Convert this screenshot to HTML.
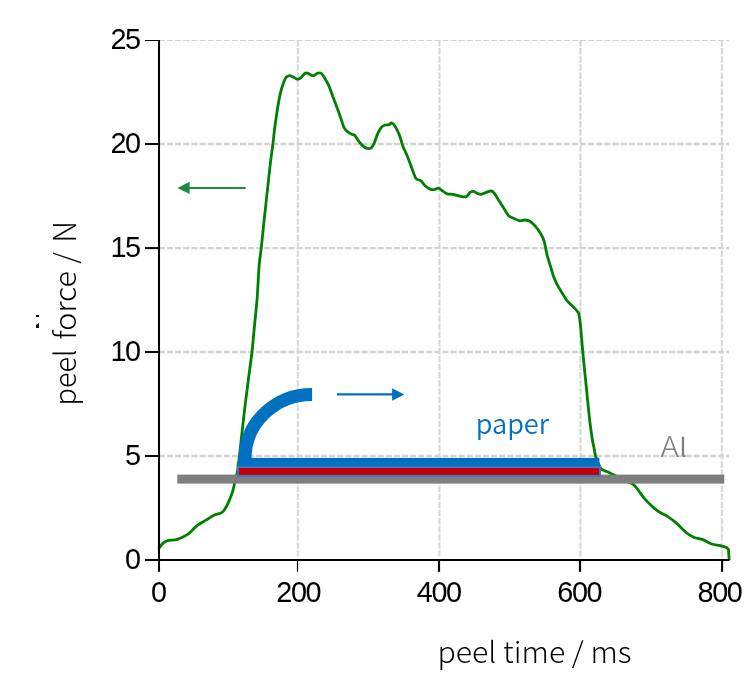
<!DOCTYPE html>
<html><head><meta charset="utf-8"><title>peel force vs peel time</title>
<style>
html,body{margin:0;padding:0;background:#fff;}
body{width:753px;height:691px;overflow:hidden;}
svg{display:block;}
.tick text{font-family:"Liberation Sans",Arial,sans-serif;font-size:28px;fill:#000;letter-spacing:-1.4px;}
.lbl{font-family:"Noto Sans CJK SC","Liberation Sans",sans-serif;font-weight:300;}
</style></head><body>
<svg width="753" height="691" viewBox="0 0 753 691">
<rect width="753" height="691" fill="#fff"/>
<g stroke="#d3d3d3" stroke-width="2.3" stroke-dasharray="6 2.1" fill="none"><line x1="297.9" y1="40" x2="297.9" y2="560" stroke="#dbdbdb" stroke-dasharray="6.5 1.6"/><line x1="439.4" y1="40" x2="439.4" y2="560" stroke="#dbdbdb" stroke-dasharray="6.5 1.6"/><line x1="580.4" y1="40" x2="580.4" y2="560" stroke="#dbdbdb" stroke-dasharray="6.5 1.6"/><line x1="721.9" y1="40" x2="721.9" y2="560" stroke="#dbdbdb" stroke-dasharray="6.5 1.6"/><line x1="159" y1="456" x2="729" y2="456"/><line x1="159" y1="352" x2="729" y2="352"/><line x1="159" y1="248.1" x2="729" y2="248.1"/><line x1="159" y1="144" x2="729" y2="144"/></g>
<line x1="159" y1="40.5" x2="729" y2="40.5" stroke="#d3d3d3" stroke-width="1" stroke-dasharray="6 2.1"/>
<path fill="none" stroke="#008000" stroke-width="2.8" stroke-linejoin="round" d="M158.5 548.7C158.5 548.7 161.9 544.2 163.2 543.1C164.5 542.0 166.0 541.1 167.9 540.6C169.8 540.1 174.7 540.1 177.3 539.3C179.9 538.5 185.0 536.2 187.6 534.4C190.2 532.6 194.5 527.5 197.0 525.6C199.5 523.7 204.1 521.3 206.4 519.9C208.7 518.5 212.0 516.1 213.9 515.2C215.8 514.3 219.1 514.0 220.5 513.3C221.9 512.6 223.2 511.6 224.3 510.0C225.4 508.4 227.9 503.7 229.0 501.1C230.1 498.5 232.1 493.2 232.8 490.8C233.5 488.4 234.0 485.9 234.6 483.3C235.2 480.7 237.0 473.7 237.5 471.0C238.0 468.3 238.3 463.0 238.3 463.0C238.3 463.0 238.6 463.7 239.3 457.4C240.0 451.1 242.7 426.2 243.9 415.7C245.1 405.2 247.4 387.2 248.5 378.7C249.6 370.2 251.2 358.8 252.0 352.0C252.8 345.2 253.6 334.7 254.3 327.8C255.0 320.9 256.3 308.4 257.0 300.0C257.7 291.6 258.6 272.0 259.2 265.0C259.8 258.0 260.6 253.8 261.3 247.6C262.0 241.4 263.5 226.0 264.3 218.7C265.1 211.4 266.3 200.3 267.1 193.2C267.9 186.1 269.3 172.3 270.1 165.5C270.9 158.7 272.5 147.4 273.1 142.3C273.7 137.2 274.2 131.7 274.8 127.4C275.4 123.1 276.6 114.4 277.3 110.0C278.0 105.6 279.4 97.6 280.2 94.1C281.0 90.6 282.3 86.1 283.1 83.9C283.9 81.7 285.1 78.5 286.0 77.4C286.9 76.3 288.6 75.8 289.6 75.7C290.6 75.6 292.1 76.5 293.2 77.0C294.3 77.5 296.5 79.2 297.6 79.3C298.7 79.4 300.2 78.2 301.2 77.4C302.2 76.6 303.9 74.1 304.8 73.5C305.7 72.9 306.8 72.9 307.7 73.1C308.6 73.3 310.4 75.0 311.3 75.3C312.2 75.6 313.3 75.6 314.2 75.3C315.1 75.0 316.8 73.4 317.8 73.1C318.8 72.8 320.5 72.8 321.4 73.4C322.3 74.0 323.3 75.8 324.3 77.4C325.3 79.0 327.5 82.8 328.7 85.4C329.9 88.0 331.8 93.9 333.0 97.0C334.2 100.1 336.3 105.6 337.4 108.5C338.5 111.4 340.1 116.2 341.0 118.7C341.9 121.2 343.0 125.7 343.9 127.4C344.8 129.1 346.4 130.8 347.5 131.7C348.6 132.6 350.8 133.8 351.8 134.3C352.8 134.8 353.7 134.3 354.7 135.3C355.7 136.3 357.9 140.2 359.2 141.8C360.5 143.4 363.1 146.3 364.6 147.2C366.1 148.1 369.3 148.8 370.6 148.3C371.9 147.8 373.2 145.3 374.1 143.4C375.0 141.5 376.7 136.0 377.6 133.9C378.5 131.8 380.1 129.0 381.0 127.8C381.9 126.6 383.4 125.6 384.5 125.2C385.6 124.8 388.0 125.1 388.9 124.8C389.8 124.5 390.7 122.7 391.5 122.9C392.3 123.1 393.9 124.4 394.9 126.0C395.9 127.6 398.2 132.0 399.3 134.7C400.4 137.4 401.8 143.2 402.8 146.0C403.8 148.8 406.0 152.8 407.1 155.6C408.2 158.4 410.2 163.9 411.4 166.9C412.6 169.9 414.5 176.3 415.8 178.2C417.1 180.1 419.7 179.8 421.0 180.8C422.3 181.8 424.0 184.9 425.3 186.0C426.6 187.1 429.2 188.9 430.5 189.4C431.8 189.9 433.8 189.6 434.9 189.4C436.0 189.2 437.5 188.0 438.4 188.1C439.3 188.2 440.7 189.5 441.8 190.3C442.9 191.1 445.5 193.3 447.0 193.8C448.5 194.3 451.5 194.0 453.1 194.3C454.7 194.6 457.5 195.7 459.2 196.0C460.9 196.3 464.6 197.3 466.1 196.8C467.6 196.3 469.1 193.1 470.1 192.4C471.1 191.7 472.9 191.3 473.8 191.4C474.7 191.5 476.2 193.0 477.2 193.4C478.2 193.8 480.1 194.5 481.3 194.4C482.5 194.3 485.0 192.9 486.3 192.4C487.6 191.9 490.3 190.9 491.4 191.0C492.5 191.1 493.3 192.0 494.4 193.4C495.5 194.8 498.1 199.3 499.5 201.5C500.9 203.7 503.4 207.7 504.6 209.6C505.8 211.5 507.4 214.5 508.6 215.7C509.8 216.9 512.2 217.6 513.7 218.3C515.2 219.0 518.3 220.6 519.8 220.8C521.3 221.0 523.5 219.9 524.8 220.0C526.1 220.1 528.5 220.4 529.9 221.2C531.3 222.0 533.7 224.3 535.0 225.8C536.3 227.3 538.8 230.5 540.0 232.5C541.2 234.5 543.2 238.0 544.1 241.0C545.0 244.0 546.3 252.0 547.1 255.2C547.9 258.4 549.4 262.6 550.2 265.3C551.0 268.0 552.3 272.9 553.2 275.5C554.1 278.1 556.1 282.4 557.2 284.6C558.3 286.8 560.1 289.7 561.3 291.7C562.5 293.7 564.6 297.5 566.4 299.8C568.2 302.1 573.3 306.8 575.0 308.6C576.7 310.4 578.8 313.4 578.8 313.4C578.8 313.4 580.2 322.4 580.7 327.7C581.2 333.0 582.2 345.6 582.9 353.2C583.6 360.8 585.2 376.5 586.1 385.0C587.0 393.5 588.5 409.5 589.3 416.8C590.1 424.1 591.8 435.9 592.4 440.0C593.0 444.1 593.5 445.3 593.9 447.4C594.3 449.5 595.5 456.0 595.5 456.0C595.5 456.0 599.3 466.4 600.9 468.5C602.5 470.6 605.8 470.9 607.4 471.7C609.0 472.5 609.5 472.9 612.8 474.5C616.1 476.1 629.0 481.8 632.3 483.8C635.6 485.8 636.2 487.8 637.8 489.7C639.4 491.6 642.3 496.1 644.3 498.4C646.3 500.7 651.0 505.3 653.0 507.1C655.0 508.9 657.5 510.8 659.5 512.1C661.5 513.4 665.9 515.3 668.2 516.8C670.5 518.3 674.5 521.4 676.8 523.4C679.1 525.4 683.2 530.1 685.5 532.0C687.8 533.9 691.9 536.5 694.2 537.5C696.5 538.5 700.6 538.7 702.9 539.6C705.2 540.5 709.3 543.2 711.6 544.0C713.9 544.8 718.3 545.2 720.3 545.7C722.3 546.2 726.8 547.7 726.8 547.7C726.8 547.7 728.5 549.4 728.5 549.4C728.5 549.4 729.2 560.3 729.2 560.3"/>
<g stroke="#000" stroke-width="2" fill="none">
<line x1="159" y1="40" x2="159" y2="571.8" stroke-width="2.1"/>
<line x1="145" y1="559.95" x2="729.3" y2="559.95" stroke-width="1.9"/>
<line x1="297.5" y1="560" x2="297.5" y2="571.8" stroke-width="1.2"/><line x1="439.0" y1="560" x2="439.0" y2="571.8" stroke-width="2.2"/><line x1="580.0" y1="560" x2="580.0" y2="571.8" stroke-width="2.2"/><line x1="722.1" y1="560" x2="722.1" y2="571.8" stroke-width="2.1"/><line x1="145" y1="560" x2="159" y2="560"/><line x1="145" y1="456" x2="159" y2="456"/><line x1="145" y1="352" x2="159" y2="352"/><line x1="145" y1="248.1" x2="159" y2="248.1"/><line x1="145" y1="144" x2="159" y2="144"/>
</g>
<line x1="145" y1="40.5" x2="159.6" y2="40.5" stroke="#000" stroke-width="1"/>
<g class="tick"><text transform="translate(139.7 569.0) scale(1.03 1.078)" text-anchor="end">0</text><text transform="translate(139.7 465.0) scale(1.03 1.078)" text-anchor="end">5</text><text transform="translate(139.7 361.0) scale(1.03 1.078)" text-anchor="end">10</text><text transform="translate(139.7 257.1) scale(1.03 1.078)" text-anchor="end">15</text><text transform="translate(139.7 153.0) scale(1.03 1.078)" text-anchor="end">20</text><text transform="translate(139.7 49.2) scale(1.03 1.078)" text-anchor="end">25</text><text transform="translate(158.3 601.6) scale(1.03 1.078)" text-anchor="middle">0</text><text transform="translate(298.2 601.6) scale(1.03 1.078)" text-anchor="middle">200</text><text transform="translate(438.7 601.6) scale(1.03 1.078)" text-anchor="middle">400</text><text transform="translate(579.2 601.6) scale(1.03 1.078)" text-anchor="middle">600</text><text transform="translate(719.5 601.6) scale(1.03 1.078)" text-anchor="middle">800</text></g>
<!-- schematic -->
<rect x="177.3" y="474.6" width="547" height="9" fill="#7f7f7f"/>
<rect x="238" y="457.9" width="361.4" height="9.5" fill="#0070c0"/>
<rect x="238" y="467.1" width="362" height="8.8" fill="#c00000" stroke="#4472c4" stroke-width="2"/>
<path d="M245.1 459.5L245.1 458.2A67 63.7 0 0 1 312.1 394.5" fill="none" stroke="#0070c0" stroke-width="12.9"/>
<line x1="337" y1="394.4" x2="393" y2="394.4" stroke="#0070c0" stroke-width="2.4"/>
<polygon points="392.1,388.2 404.4,394.4 392.1,400.7" fill="#0070c0"/>
<line x1="189" y1="187.9" x2="245.7" y2="187.9" stroke="#1e8c3c" stroke-width="2"/>
<polygon points="189.6,181.8 177.4,187.9 189.6,194" fill="#1e8c3c"/>
<text class="lbl" x="475.7" y="434.4" font-size="27.2" style="font-weight:350" textLength="73.4" lengthAdjust="spacingAndGlyphs" fill="#0070c0">paper</text>
<text class="lbl" transform="translate(660.6 456.5) scale(1.1 1)" font-size="28.4" fill="#7f7f7f">A<tspan font-size="25.2" dx="0.2" style="font-weight:350">l</tspan></text>
<text class="lbl" x="437.5" y="662.5" font-size="28.8" textLength="194" lengthAdjust="spacingAndGlyphs" fill="#000">peel time / ms</text>
<g class="lbl" transform="translate(75.6 406) rotate(-90)" font-size="29.2" fill="#000"><text y="0"><tspan x="0.6" textLength="56" lengthAdjust="spacingAndGlyphs">peel</tspan> <tspan x="66.5" textLength="68.5" lengthAdjust="spacingAndGlyphs">force</tspan> <tspan x="142.3">/</tspan> <tspan x="163.3" font-size="31">N</tspan></text></g>
<rect x="36" y="315" width="3" height="2" fill="#1a0a00"/>
<polygon points="36,328 36,325 39,323 39,328" fill="#1a0a00"/>
</svg>
</body></html>
